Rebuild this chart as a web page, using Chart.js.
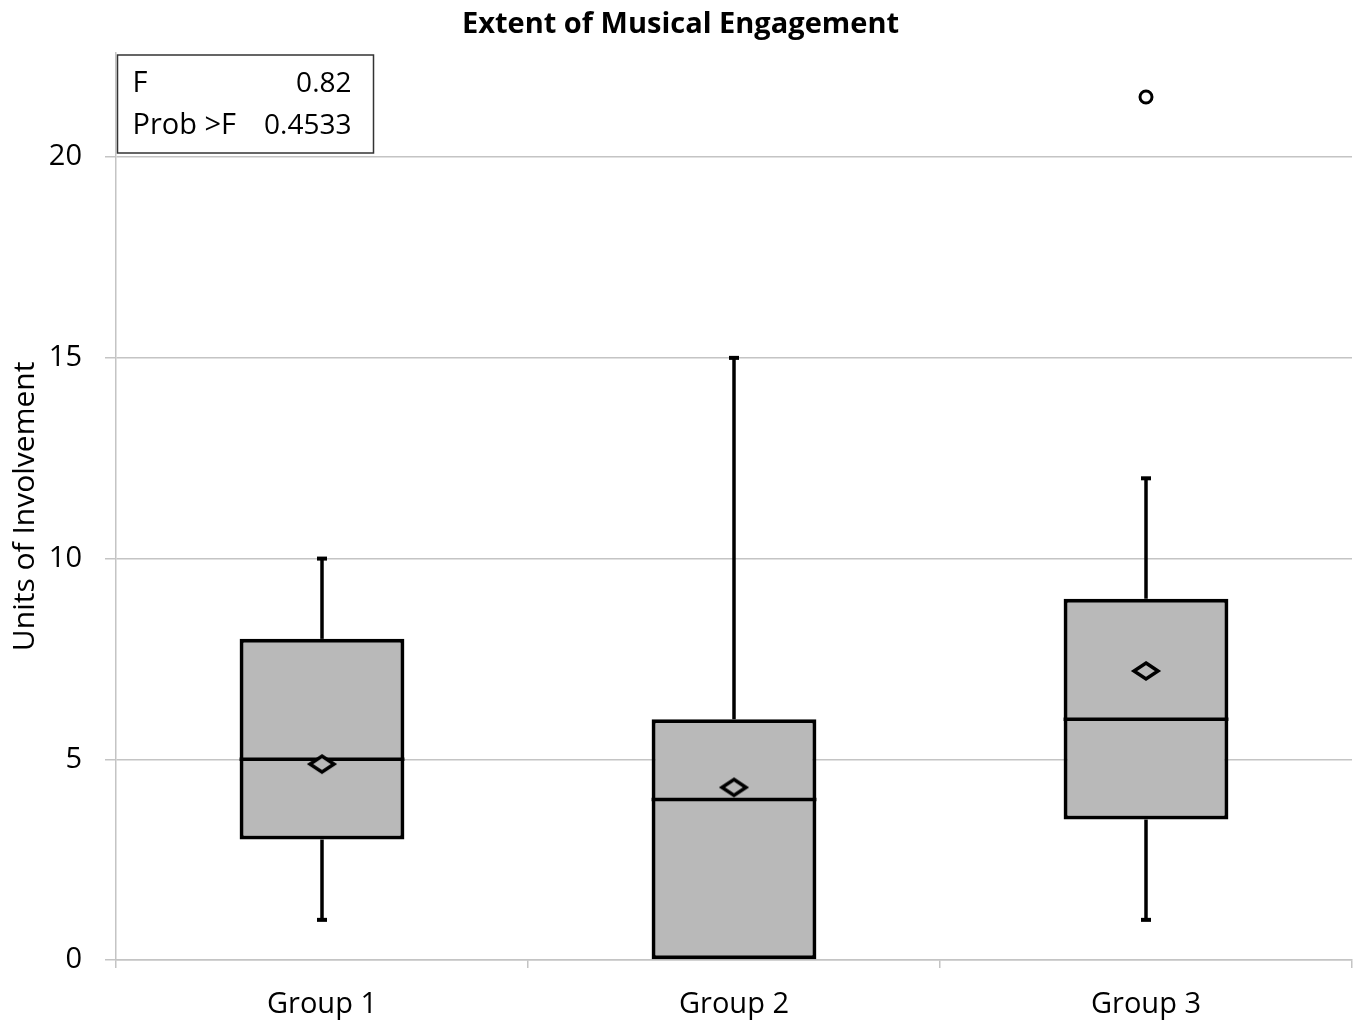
<!DOCTYPE html>
<html>
<head>
<meta charset="utf-8">
<script src="https://cdn.jsdelivr.net/npm/chart.js@4.4.1/dist/chart.umd.min.js"></script>
<style>
  body { margin: 0; background: #fff; overflow: hidden; }
  #wrap { width: 1361px; height: 1028px; }
</style>
</head>
<body>
<div id="wrap"><canvas id="chart" width="1361" height="1028"></canvas></div>
<script>
'use strict'

// box plot data
const groups = ['Group 1', 'Group 2', 'Group 3'];
const whiskerLow = [1, 0, 1];
const q1 = [3, 0, 3.5];
const medians = [5, 4, 6];
const q3 = [8, 6, 9];
const whiskerHigh = [10, 15, 12];
const means = [4.88, 4.3, 7.2];
const outliers = [null, null, 21.5];
const yTicks = [0, 5, 10, 15, 20];
const anovaRows = [['F', '0.82'], ['Prob >F', '0.4533']];

const FONT = "'Open Sans', 'DejaVu Sans', sans-serif";
const boxGray = '#b9b9b9';
const gridGray = '#c4c4c4';

// flattened diamond used for the means
function makeDiamond() {
  const c = document.createElement('canvas');
  c.width = 32; c.height = 24;
  const g = c.getContext('2d');
  g.beginPath();
  g.moveTo(16, 4);
  g.lineTo(28, 12);
  g.lineTo(16, 20);
  g.lineTo(4, 12);
  g.closePath();
  g.fillStyle = boxGray;
  g.fill();
  g.lineWidth = 3.5;
  g.strokeStyle = '#000';
  g.stroke();
  return c;
}

const boxParts = {
  id: 'boxParts',
  beforeDatasetsDraw(chart) {
    const ctx = chart.ctx;
    const x = chart.scales.x, y = chart.scales.y;
    ctx.save();
    ctx.strokeStyle = '#000';
    ctx.fillStyle = '#000';
    ctx.lineWidth = 3.5;
    groups.forEach((g, i) => {
      const px = x.getPixelForValue(i);
      const segs = [[whiskerLow[i], q1[i]], [q3[i], whiskerHigh[i]]];
      segs.forEach(([a, b]) => {
        if (a === b) return;
        ctx.beginPath();
        ctx.moveTo(px, y.getPixelForValue(a));
        ctx.lineTo(px, y.getPixelForValue(b));
        ctx.stroke();
      });
      if (whiskerHigh[i] > q3[i]) ctx.fillRect(px - 5, y.getPixelForValue(whiskerHigh[i]) - 2, 10, 4);
      if (whiskerLow[i] < q1[i]) ctx.fillRect(px - 5, y.getPixelForValue(whiskerLow[i]) - 2, 10, 4);
    });
    ctx.restore();
  },
  afterDatasetDraw(chart, args) {
    if (args.index !== 0) return;
    const ctx = chart.ctx;
    const y = chart.scales.y;
    const bars = chart.getDatasetMeta(0).data;
    ctx.save();
    ctx.strokeStyle = '#000';
    ctx.lineWidth = 3.5;
    bars.forEach((bar, i) => {
      const py = y.getPixelForValue(medians[i]);
      ctx.beginPath();
      ctx.moveTo(bar.x - bar.width / 2, py);
      ctx.lineTo(bar.x + bar.width / 2, py);
      ctx.stroke();
    });
    ctx.restore();
  },
  afterDraw(chart) {
    // ANOVA summary box in the top left corner
    const ctx = chart.ctx;
    const a = chart.chartArea;
    const bx = a.left + 1.5, by = 55, bw = 256, bh = 98;
    ctx.save();
    ctx.strokeStyle = '#333';
    ctx.lineWidth = 1.5;
    ctx.strokeRect(bx, by, bw, bh);
    ctx.fillStyle = '#000';
    ctx.textBaseline = 'middle';
    anovaRows.forEach((row, r) => {
      const ty = by + 29 + r * 42;
      ctx.textAlign = 'left';
      ctx.font = '29px ' + FONT;
      ctx.fillText(row[0], bx + 15, ty);
      ctx.textAlign = 'right';
      ctx.font = '28px ' + FONT;
      ctx.fillText(row[1], bx + bw - 22, ty);
    });
    ctx.restore();
  }
};

const ctx = document.getElementById('chart');

new Chart(ctx, {
  type: 'bar',
  data: {
    labels: groups,
    datasets: [
      {
        label: 'box',
        data: groups.map((g, i) => [q1[i], q3[i]]),
        backgroundColor: boxGray,
        borderColor: '#000',
        borderWidth: 4,
        borderSkipped: false,
        categoryPercentage: 1,
        barPercentage: 0.4,
        order: 2,
      },
      {
        type: 'line',
        label: 'mean',
        data: means,
        showLine: false,
        pointStyle: makeDiamond(),
        order: 1,
      },
      {
        type: 'line',
        label: 'outlier',
        data: outliers,
        showLine: false,
        pointStyle: 'circle',
        pointRadius: 6,
        pointBorderWidth: 3,
        pointBackgroundColor: '#fff',
        pointBorderColor: '#000',
        order: 0,
      },
    ]
  },
  options: {
    responsive: false,
    animation: false,
    layout: { padding: { left: 0, right: 0, top: 0, bottom: 0 } },
    plugins: {
      legend: { display: false },
      tooltip: { enabled: false },
      title: {
        display: true,
        text: 'Extent of Musical Engagement',
        color: '#000',
        font: { family: FONT, size: 29, weight: 'bold' },
        padding: { top: 7, bottom: 11 },
      },
    },
    scales: {
      x: {
        offset: true,
        grid: { offset: true, drawOnChartArea: false, color: gridGray, lineWidth: 1.5, tickLength: 8 },
        border: { color: gridGray, width: 1.5 },
        ticks: { color: '#000', font: { family: FONT, size: 29 }, padding: 19 },
        afterFit(scale) {
          scale.height = 68;
          scale.paddingLeft = 0;
          scale.paddingRight = 0;
        },
      },
      y: {
        min: 0,
        max: 22.6,
        afterBuildTicks(scale) {
          scale.ticks = yTicks.map(v => ({ value: v }));
        },
        grid: { color: gridGray, lineWidth: 1.5, tickLength: 11 },
        border: { color: gridGray, width: 1.5 },
        ticks: { color: '#000', font: { family: FONT, size: 29 }, padding: 23 },
        title: {
          display: true,
          text: 'Units of Involvement',
          color: '#000',
          font: { family: FONT, size: 30 },
          padding: { top: 7, bottom: 0 },
        },
        afterFit(scale) {
          scale.width = 116;
          scale.paddingTop = 0;
          scale.paddingBottom = 0;
        },
      },
    },
  },
  plugins: [boxParts],
});
</script>
</body>
</html>
